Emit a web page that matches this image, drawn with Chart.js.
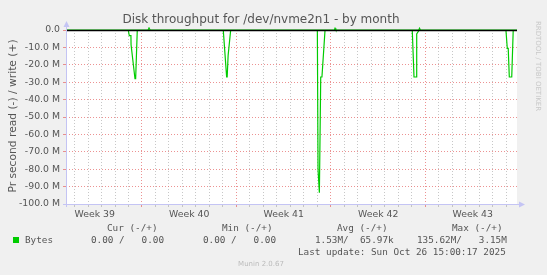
<!DOCTYPE html>
<html>
<head>
<meta charset="utf-8">
<script src="https://cdn.jsdelivr.net/npm/chart.js@4/dist/chart.umd.min.js"></script>
<style>
  html, body { margin: 0; padding: 0; background: #f0f0f0; }
  #wrap { width: 547px; height: 275px; }
</style>
</head>
<body>
<div id="wrap"><canvas id="disk"></canvas></div>
<script>
// x = days since Mon Sep 22 2025 00:00, y = bytes per second in M (read is negative)
const readDays = [1.37, 5.98, 6.06, 6.18, 6.19, 6.48, 6.53, 6.65,
    13.02, 13.27, 13.31, 13.38, 13.57,
    19.99, 20.04, 20.1, 20.14, 20.24, 20.33, 20.56,
    27.02, 27.15, 27.3, 27.35, 27.54,
    33.96, 34.06, 34.13, 34.21, 34.39, 34.5, 34.78];
const readMB = [0, 0, -3.2, -3.2, -8.5, -28, -28, 0,
    0, -27, -27, -14.6, 0,
    0, -80, -80, -93.5, -27, -27, 0,
    0, -27, -27, -2.2, 0,
    0, -10.6, -10.6, -27, -27, 0, 0];

const writeDays = [1.37, 7.45, 7.52, 7.6, 21.25, 21.3, 21.36, 27.5, 27.56, 27.62, 34.78];
const writeMB = [0, 0, 1.2, 0, 0, 1.0, 0, 0, 1.0, 0, 0];

const weekStarts = [7, 14, 21, 28];
const weekMids = [3.5, 10.5, 17.5, 24.5, 31.5];
const weekLabels = ['Week 39', 'Week 40', 'Week 41', 'Week 42', 'Week 43'];

const majorCol = 'rgba(230, 110, 110, 0.75)';
const minorCol = 'rgba(175, 175, 175, 0.7)';
const textCol = '#555';

function toPoints(xs, ys) {
    return xs.map((x, i) => ({ x: x, y: ys[i] }));
}

const decor = {
    id: 'decor',
    beforeDraw(chart) {
        const c = chart.ctx, a = chart.chartArea;
        c.save();
        c.fillStyle = '#f0f0f0';
        c.fillRect(0, 0, chart.width, chart.height);
        c.fillStyle = '#ffffff';
        c.fillRect(a.left, a.top, a.right - a.left, a.bottom - a.top);
        c.restore();
    },
    afterDatasetsDraw(chart) {
        const c = chart.ctx, a = chart.chartArea;
        c.save();
        // zero line
        c.strokeStyle = '#000';
        c.lineWidth = 1.6;
        c.beginPath();
        c.moveTo(a.left + 0.5, a.top + 0.5);
        c.lineTo(a.right, a.top + 0.5);
        c.stroke();

        // axes with arrows
        c.lineWidth = 1;
        c.strokeStyle = '#c4c4f4';
        c.fillStyle = '#c4c4f4';
        c.beginPath();
        c.moveTo(a.left + 0.5, a.bottom + 3);
        c.lineTo(a.left + 0.5, a.top - 4);
        c.moveTo(a.left - 3, a.bottom + 0.5);
        c.lineTo(a.right + 3, a.bottom + 0.5);
        c.stroke();
        c.beginPath();
        c.moveTo(a.left + 0.5, a.top - 9);
        c.lineTo(a.left - 2.5, a.top - 3);
        c.lineTo(a.left + 3.5, a.top - 3);
        c.closePath();
        c.fill();
        c.beginPath();
        c.moveTo(a.right + 8, a.bottom + 0.5);
        c.lineTo(a.right + 2, a.bottom - 2.5);
        c.lineTo(a.right + 2, a.bottom + 3.5);
        c.closePath();
        c.fill();

        // title
        c.fillStyle = textCol;
        c.font = '12px "DejaVu Sans"';
        c.textAlign = 'center';
        c.textBaseline = 'alphabetic';
        c.fillText('Disk throughput for /dev/nvme2n1 - by month', 261, 23);

        // vertical axis title
        c.save();
        c.translate(13, 116);
        c.rotate(-Math.PI / 2);
        c.font = '10.7px "DejaVu Sans"';
        c.textBaseline = 'middle';
        c.fillText('Pr second read (-) / write (+)', 0, 0);
        c.restore();

        // rrdtool credit
        c.save();
        c.translate(538, 66);
        c.rotate(Math.PI / 2);
        c.fillStyle = '#c8c8c8';
        c.font = '7px "DejaVu Sans"';
        c.textBaseline = 'middle';
        c.fillText('RRDTOOL / TOBI OETIKER', 0, 0);
        c.restore();

        // legend
        c.font = '9.33px "DejaVu Sans Mono"';
        c.textAlign = 'left';
        c.textBaseline = 'middle';
        c.fillStyle = textCol;
        c.fillText('Cur (-/+)', 107, 228.5);
        c.fillText('Min (-/+)', 222, 228.5);
        c.fillText('Avg (-/+)', 337, 228.5);
        c.fillText('Max (-/+)', 452, 228.5);
        c.fillText('Bytes', 25, 240.5);
        c.fillText('0.00 /   0.00', 91, 240.5);
        c.fillText('0.00 /   0.00', 203, 240.5);
        c.fillText('1.53M/  65.97k', 315, 240.5);
        c.fillText('135.62M/   3.15M', 417, 240.5);
        c.fillText('Last update: Sun Oct 26 15:00:17 2025', 298, 252.5);
        c.fillStyle = '#00cc00';
        c.fillRect(13, 237, 6, 6);

        c.fillStyle = '#bbbbbb';
        c.font = '7px "DejaVu Sans"';
        c.textAlign = 'center';
        c.fillText('Munin 2.0.67', 261, 264.5);
        c.restore();
    }
};

const isInt = v => Math.abs(v - Math.round(v)) < 1e-6;

new Chart(document.getElementById('disk'), {
    type: 'line',
    data: {
        datasets: [
            {
                data: toPoints(writeDays, writeMB),
                borderColor: '#00cc00',
                borderWidth: 1.2,
                pointRadius: 0,
                tension: 0,
                clip: { left: 0, right: 0, top: 3, bottom: 0 }
            },
            {
                data: toPoints(readDays, readMB),
                borderColor: '#00cc00',
                borderWidth: 1.2,
                pointRadius: 0,
                tension: 0
            }
        ]
    },
    options: {
        responsive: true,
        maintainAspectRatio: false,
        animation: false,
        layout: { padding: { top: 30, right: 30, left: 0, bottom: 0 } },
        plugins: { legend: { display: false }, tooltip: { enabled: false } },
        scales: {
            x: {
                type: 'linear',
                min: 1.37,
                max: 34.78,
                afterFit: s => { s.height = 71; },
                afterBuildTicks: s => {
                    const t = [];
                    for (let d = 2; d <= 34; d++) t.push({ value: d });
                    weekMids.forEach(m => t.push({ value: m }));
                    t.sort((p, q) => p.value - q.value);
                    s.ticks = t;
                },
                ticks: {
                    autoSkip: false,
                    maxRotation: 0,
                    padding: 2,
                    color: textCol,
                    font: { family: 'DejaVu Sans', size: 9.33 },
                    callback: v => {
                        const i = weekMids.indexOf(v);
                        return i >= 0 ? weekLabels[i] : '';
                    }
                },
                grid: {
                    tickLength: 3,
                    color: c => !isInt(c.tick.value) ? 'rgba(0,0,0,0)' :
                        (weekStarts.includes(c.tick.value) ? majorCol : minorCol),
                    tickColor: c => !isInt(c.tick.value) ? 'rgba(0,0,0,0)' :
                        (weekStarts.includes(c.tick.value) ? majorCol : minorCol)
                },
                border: { display: false, dash: [1, 2] }
            },
            y: {
                min: -100,
                max: 0,
                afterFit: s => { s.width = 66; },
                ticks: {
                    stepSize: 5,
                    padding: 3,
                    color: textCol,
                    font: { family: 'DejaVu Sans', size: 9.33 },
                    callback: v => v % 10 !== 0 ? '' : (v === 0 ? '0.0' : v.toFixed(1) + ' M')
                },
                grid: {
                    tickLength: 3,
                    color: c => c.tick.value % 10 === 0 ? majorCol : minorCol,
                    tickColor: c => c.tick.value % 10 === 0 ? majorCol : 'rgba(0,0,0,0)'
                },
                border: { display: false, dash: [1, 2] }
            }
        }
    },
    plugins: [decor]
});
</script>
</body>
</html>
